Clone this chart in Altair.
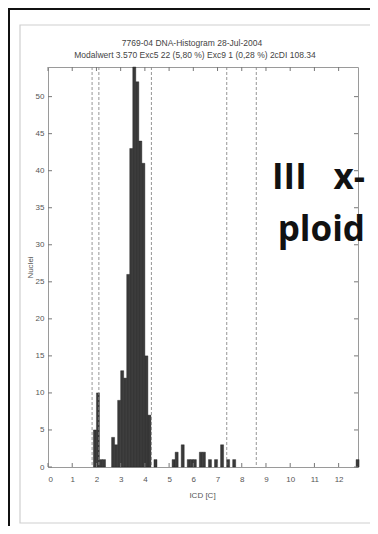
import altair as alt
import pandas as pd

# ---- data ----
bin_start = [1.875, 2.0, 2.125, 2.25,
             2.625, 2.75, 2.875, 3.0, 3.125, 3.25, 3.375, 3.5, 3.625, 3.75, 3.875, 4.0, 4.125,
             4.375, 5.125, 5.25, 5.5, 5.75, 5.875, 6.0, 6.25, 6.375, 6.625, 6.875,
             7.125, 7.375, 7.625, 12.72]
counts = [5, 10, 1, 1,
          4, 3, 9, 13, 12, 26, 43, 54, 52, 44, 41, 15, 7,
          1, 1, 2, 3, 1, 1, 1, 2, 2, 1, 1,
          3, 1, 1, 1]
bin_width = 0.125
cut_lines = [1.82, 2.1, 4.27, 7.38, 8.6]
x_ticks = list(range(0, 13))
y_ticks = list(range(0, 55, 5))
title_lines = ["7769-04 DNA-Histogram 28-Jul-2004",
               "Modalwert 3.570 Exc5 22 (5,80 %) Exc9 1 (0,28 %) 2cDI 108.34"]
x_title = "ICD [C]"
y_title = "Nuclei"
note_words = ["III", "x-", "ploid"]

W, H = 310, 400

bars_df = pd.DataFrame({"x0": bin_start,
                        "x1": [b + bin_width for b in bin_start],
                        "n": counts,
                        "base": [0] * len(counts)})
xscale = alt.Scale(domain=[0, 12.8], nice=False, zero=False)
yscale = alt.Scale(domain=[0, 54], nice=False)

axis_style = dict(ticks=False, domain=False, grid=False, labelFontSize=8, labelColor="#555555",
                  labelFont="Liberation Sans", titleFont="Liberation Sans", titleFontSize=8,
                  titleFontWeight="normal", titleColor="#555555", zindex=1)
xaxis = alt.Axis(values=x_ticks, title=x_title, format="d", labelPadding=8,
                 titleX=154, titleY=24, titleBaseline="top", **axis_style)
yaxis = alt.Axis(values=y_ticks, title=y_title, labelPadding=4, titleAngle=-90,
                 titleX=-18, titleY=200, titleAlign="center", titleBaseline="middle",
                 **axis_style)

one = pd.DataFrame({"k": [0]})

frame_inner = alt.Chart(one).mark_rect(fillOpacity=0, stroke="#cfcfcf", strokeWidth=1.2).encode(
    x=alt.value(-28), x2=alt.value(323), y=alt.value(-42), y2=alt.value(456))
frame_black = alt.Chart(one).mark_rect(fillOpacity=0, stroke="#111111", strokeWidth=2).encode(
    x=alt.value(-39), x2=alt.value(420), y=alt.value(-58), y2=alt.value(560))

bars = alt.Chart(bars_df).mark_rect(color="#3a3a3a", stroke="#1e1e1e", strokeWidth=0.4).encode(
    x=alt.X("x0:Q", scale=xscale, axis=xaxis),
    x2="x1:Q",
    y=alt.Y("n:Q", scale=yscale, axis=yaxis),
    y2="base:Q",
)

cuts = alt.Chart(pd.DataFrame({"c": cut_lines})).mark_rule(
    color="#8a8a8a", strokeWidth=0.9, strokeDash=[3, 2]).encode(
    x=alt.X("c:Q", scale=xscale, axis=xaxis))

xt = pd.DataFrame({"t": x_ticks})
yt = pd.DataFrame({"t": y_ticks})
tick_col = "#777777"
xt_bot = alt.Chart(xt).mark_rule(color=tick_col).encode(
    x=alt.X("t:Q", scale=xscale, axis=xaxis), y=alt.value(H), y2=alt.value(H - 4))
xt_top = alt.Chart(xt).mark_rule(color=tick_col).encode(
    x=alt.X("t:Q", scale=xscale, axis=xaxis), y=alt.value(0), y2=alt.value(4))
yt_l = alt.Chart(yt).mark_rule(color=tick_col).encode(
    y=alt.Y("t:Q", scale=yscale, axis=yaxis), x=alt.value(0), x2=alt.value(4))
yt_r = alt.Chart(yt).mark_rule(color=tick_col).encode(
    y=alt.Y("t:Q", scale=yscale, axis=yaxis), x=alt.value(W), x2=alt.value(W - 4))

t1 = alt.Chart(pd.DataFrame({"t": [title_lines[0]]})).mark_text(
    font="Liberation Sans", fontSize=8.5, color="#444444", align="center", baseline="middle").encode(
    text="t:N", x=alt.value(144), y=alt.value(-24))
t2 = alt.Chart(pd.DataFrame({"t": [title_lines[1]]})).mark_text(
    font="Liberation Sans", fontSize=8.5, color="#444444", align="center", baseline="middle").encode(
    text="t:N", x=alt.value(147), y=alt.value(-12))

note_font = dict(font="Open Sans", fontSize=35, fontWeight="bold", color="#111111")
n1 = alt.Chart(pd.DataFrame({"t": [note_words[0]]})).mark_text(
    align="left", baseline="alphabetic", **note_font).encode(
    text="t:N", x=alt.value(224), y=alt.value(122))
n2 = alt.Chart(pd.DataFrame({"t": [note_words[1]]})).mark_text(
    align="right", baseline="alphabetic", **note_font).encode(
    text="t:N", x=alt.value(317), y=alt.value(122))
n3 = alt.Chart(pd.DataFrame({"t": [note_words[2]]})).mark_text(
    align="right", baseline="alphabetic", **note_font).encode(
    text="t:N", x=alt.value(317), y=alt.value(174))

chart = alt.layer(
    frame_inner, frame_black, bars, cuts, xt_bot, xt_top, yt_l, yt_r,
    t1, t2, n1, n2, n3
).properties(
    width=W, height=H,
    autosize=alt.AutoSizeParams(type="none"),
    padding={"left": 40, "top": 59, "right": 12, "bottom": 59},
    background="#ffffff",
).configure_view(stroke="#9a9a9a", strokeWidth=1)

chart.save("out.html", embed_options={"renderer": "svg", "actions": False})
